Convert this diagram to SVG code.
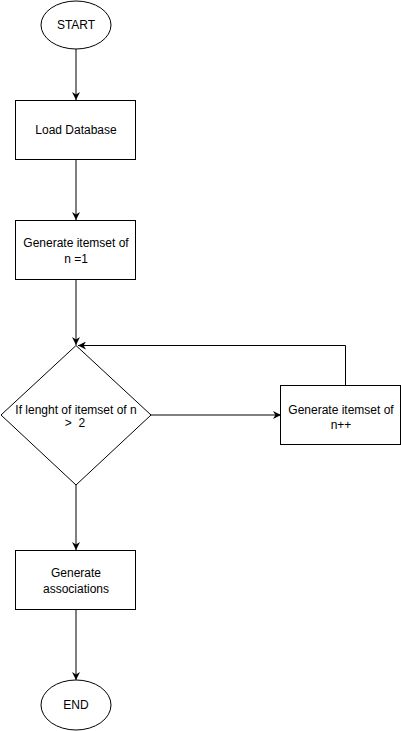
<svg xmlns="http://www.w3.org/2000/svg" width="401" height="731" viewBox="0 0 401 731">
<style>
.s{fill:#fff;stroke:#000;stroke-width:1}
.t{font-family:"Liberation Sans",Arial,sans-serif;font-size:12px;fill:#000;text-anchor:middle}
.c{fill:none;stroke:#000;stroke-width:1}
</style>
<defs>
<marker id="a" viewBox="0 0 10 10" refX="10" refY="5" markerWidth="8" markerHeight="8" markerUnits="userSpaceOnUse" orient="auto">
<path d="M0,0 L10,5 L0,10 L3,5 Z" fill="#000"/>
</marker>
</defs>
<rect width="401" height="731" fill="#fff"/>
<g id="connectors">
<line class="c" x1="76" y1="49" x2="76" y2="100" marker-end="url(#a)"/>
<line class="c" x1="76" y1="160" x2="76" y2="220" marker-end="url(#a)"/>
<line class="c" x1="76" y1="280" x2="76" y2="345" marker-end="url(#a)"/>
<line class="c" x1="151" y1="415" x2="281" y2="415" marker-end="url(#a)"/>
<polyline class="c" points="345.5,385 345.5,345.5 78,345.5" marker-end="url(#a)"/>
<line class="c" x1="76" y1="485" x2="76" y2="550" marker-end="url(#a)"/>
<line class="c" x1="76" y1="610" x2="76" y2="680" marker-end="url(#a)"/>
</g>
<g id="start">
<ellipse class="s" cx="76" cy="25" rx="35" ry="24"/>
<text class="t" x="76" y="29">START</text>
</g>
<g id="load">
<rect class="s" x="15.5" y="100.5" width="120" height="59"/>
<text class="t" x="76" y="134">Load Database</text>
</g>
<g id="gen1">
<rect class="s" x="15.5" y="220.5" width="120" height="59"/>
<text class="t" x="76" y="247">Generate itemset of</text>
<text class="t" x="76" y="263">n =1</text>
</g>
<g id="decision">
<polygon class="s" points="76,345.5 151,415 76,485 1,415"/>
<text class="t" x="76" y="414">If lenght of itemset of n</text>
<text class="t" x="75" y="427" xml:space="preserve">&gt;  2</text>
</g>
<g id="genn">
<rect class="s" x="280.5" y="385.5" width="120" height="59"/>
<text class="t" x="341" y="414">Generate itemset of</text>
<text class="t" x="341" y="429">n++</text>
</g>
<g id="assoc">
<rect class="s" x="15.5" y="550.5" width="120" height="59"/>
<text class="t" x="76" y="577">Generate</text>
<text class="t" x="76" y="593">associations</text>
</g>
<g id="end">
<ellipse class="s" cx="76" cy="705" rx="35" ry="25"/>
<text class="t" x="76" y="709">END</text>
</g>
</svg>
